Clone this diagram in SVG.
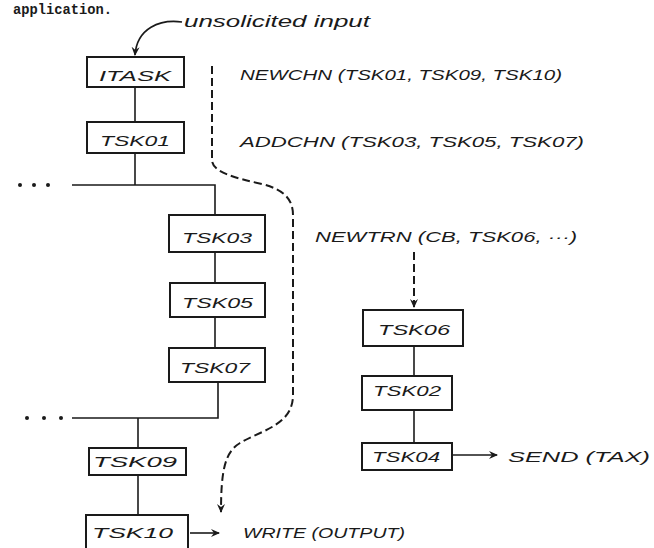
<svg xmlns="http://www.w3.org/2000/svg" width="654" height="548" viewBox="0 0 654 548">
<style>
.box{fill:none;stroke:#1a1a1a;stroke-width:2}
.ln{fill:none;stroke:#1a1a1a;stroke-width:1.6}
.dash{fill:none;stroke:#1a1a1a;stroke-width:2;stroke-dasharray:8 4}
.lbl{font-family:"Liberation Sans",Arial,sans-serif;font-style:italic;font-size:15px;fill:#1a1a1a}
.hand{font-family:"Liberation Sans",Arial,sans-serif;font-style:italic;font-size:16px;fill:#1a1a1a}
.type{font-family:"Liberation Mono","Courier New",monospace;font-weight:bold;font-size:15px;fill:#1a1a1a}
.dots{fill:#1a1a1a}
</style>
<defs>
<marker id="ah" markerWidth="10" markerHeight="10" refX="8" refY="5" orient="auto" markerUnits="userSpaceOnUse">
<path d="M0,1 L9,5 L0,9 L3,5 Z" fill="#1a1a1a"/>
</marker>
</defs>
<rect width="654" height="548" fill="#ffffff"/>
<text class="type" x="13" y="14" textLength="99" lengthAdjust="spacingAndGlyphs">application.</text>
<text class="hand" x="184" y="27" textLength="186" lengthAdjust="spacingAndGlyphs">unsolicited input</text>

<g id="connectors">
<path class="ln" d="M182 22 C160 19 137 28 135 55" marker-end="url(#ah)"/>
<path class="ln" d="M135 87 L135 122"/>
<path class="ln" d="M135 153 L135 185"/>
<path class="ln" d="M72 185 L215 185 L215 215"/>
<path class="ln" d="M215 252 L215 283"/>
<path class="ln" d="M215 317 L215 348"/>
<path class="ln" d="M218 382 L218 418 L72 418"/>
<path class="ln" d="M138 418 L138 448"/>
<path class="ln" d="M138 475 L138 515"/>
<path class="ln" d="M190 533 L219 533" marker-end="url(#ah)"/>
<path class="ln" d="M414 346 L414 376"/>
<path class="ln" d="M414 410 L414 443"/>
<path class="ln" d="M453 455 L497 455" marker-end="url(#ah)"/>
<path class="dash" d="M414 252 L414 307" marker-end="url(#ah)"/>
<path class="dash" d="M212 66 L212 160 C212 172 235 178 262 184 C285 190 293 200 293 215 L293 395 C293 425 262 430 240 443 C225 452 221 470 221 512" marker-end="url(#ah)"/>
</g>

<g id="dots1" class="dots"><circle cx="20" cy="185" r="2"/><circle cx="34" cy="185" r="2"/><circle cx="48" cy="185" r="2"/></g>
<g id="dots2" class="dots"><circle cx="27" cy="418" r="2"/><circle cx="44" cy="418" r="2"/><circle cx="61" cy="418" r="2"/></g>

<g id="ITASK"><rect class="box" x="87" y="57" width="97" height="30"/><text class="lbl" x="99" y="81" textLength="72" lengthAdjust="spacingAndGlyphs">ITASK</text></g>
<g id="TSK01"><rect class="box" x="87" y="122" width="97" height="31"/><text class="lbl" x="100" y="146" textLength="70" lengthAdjust="spacingAndGlyphs">TSK01</text></g>
<g id="TSK03"><rect class="box" x="169" y="215" width="96" height="37"/><text class="lbl" x="182" y="243" textLength="70" lengthAdjust="spacingAndGlyphs">TSK03</text></g>
<g id="TSK05"><rect class="box" x="170" y="283" width="95" height="34"/><text class="lbl" x="182" y="308" textLength="71" lengthAdjust="spacingAndGlyphs">TSK05</text></g>
<g id="TSK07"><rect class="box" x="169" y="348" width="96" height="34"/><text class="lbl" x="180" y="373" textLength="70" lengthAdjust="spacingAndGlyphs">TSK07</text></g>
<g id="TSK09"><rect class="box" x="89" y="448" width="97" height="27"/><text class="lbl" x="93" y="467" textLength="84" lengthAdjust="spacingAndGlyphs">TSK09</text></g>
<g id="TSK10"><path class="box" d="M86 550 L86 515 L188 515 L188 550"/><text class="lbl" x="92" y="538" textLength="81" lengthAdjust="spacingAndGlyphs">TSK10</text></g>
<g id="TSK06"><rect class="box" x="363" y="310" width="100" height="36"/><text class="lbl" x="378" y="335" textLength="72" lengthAdjust="spacingAndGlyphs">TSK06</text></g>
<g id="TSK02"><rect class="box" x="362" y="376" width="90" height="34"/><text class="lbl" x="373" y="396" textLength="68" lengthAdjust="spacingAndGlyphs">TSK02</text></g>
<g id="TSK04"><rect class="box" x="362" y="443" width="90" height="27"/><text class="lbl" x="372" y="462" textLength="68" lengthAdjust="spacingAndGlyphs">TSK04</text></g>

<g id="labels">
<text class="lbl" x="240" y="80" textLength="322" lengthAdjust="spacingAndGlyphs">NEWCHN (TSK01, TSK09, TSK10)</text>
<text class="lbl" x="240" y="147" textLength="344" lengthAdjust="spacingAndGlyphs">ADDCHN (TSK03, TSK05, TSK07)</text>
<text class="lbl" x="315" y="242" textLength="262" lengthAdjust="spacingAndGlyphs">NEWTRN (CB, TSK06, ···)</text>
<text class="lbl" x="243" y="538" textLength="162" lengthAdjust="spacingAndGlyphs">WRITE (OUTPUT)</text>
<text class="lbl" x="508" y="462" textLength="142" lengthAdjust="spacingAndGlyphs">SEND (TAX)</text>
</g>
</svg>
